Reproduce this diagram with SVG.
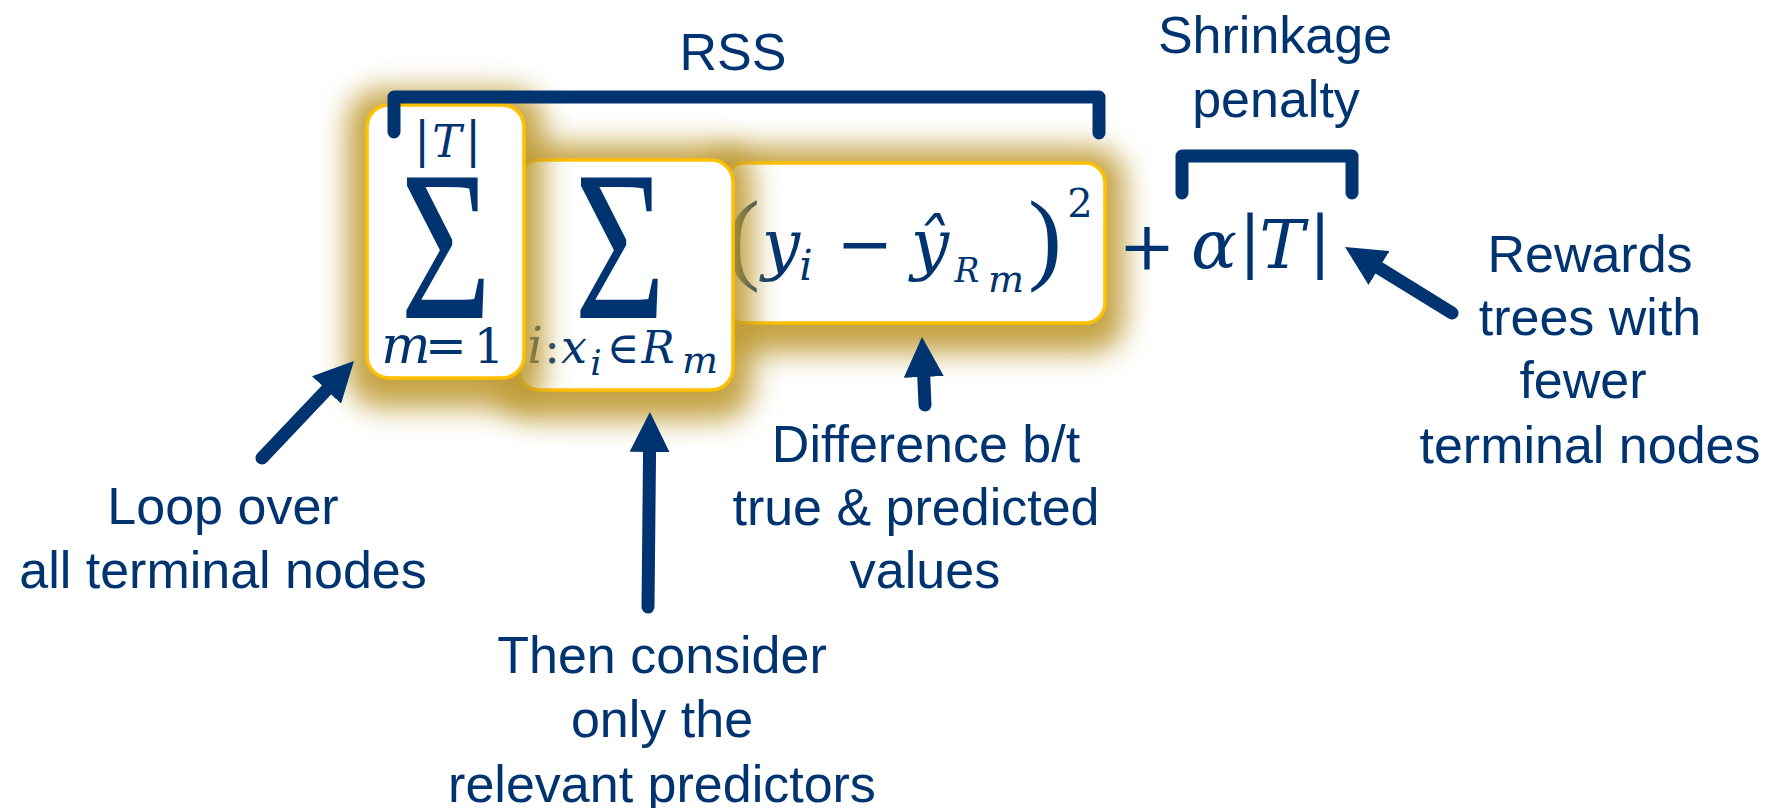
<svg xmlns="http://www.w3.org/2000/svg" width="1781" height="808" viewBox="0 0 1781 808">
<style>
.lbl{font-family:"Liberation Sans",Arial,sans-serif;font-size:52px;fill:#003471;text-anchor:middle}
.m{font-family:"DejaVu Serif",serif;fill:#003471;text-anchor:middle}
.mi{font-family:"DejaVu Serif",serif;font-style:italic;fill:#003471;text-anchor:middle}
.sig{font-family:"Liberation Serif",serif;font-size:215px;fill:#003471;text-anchor:middle}
.par{font-family:"Liberation Serif",serif;font-size:102px;fill:#003471}
.box{fill:#ffffff;stroke:#FFC000;stroke-width:3.5}
.glow{fill:#BE9A30;opacity:0.9;filter:url(#blur)}
.brk{fill:none;stroke:#003471;stroke-width:13;stroke-linecap:round;stroke-linejoin:round}
.arr{fill:none;stroke:#003471;stroke-width:13;stroke-linecap:round;marker-end:url(#head)}
</style>
<defs>
<filter id="blur" x="-50%" y="-50%" width="200%" height="200%"><feGaussianBlur stdDeviation="14"/></filter>
<marker id="head" markerUnits="userSpaceOnUse" markerWidth="40" markerHeight="40" viewBox="0 0 40 40" refX="15" refY="20" orient="auto"><path d="M0,0 L40,20 L0,40 z" fill="#003471"/></marker>
</defs>
<rect width="1781" height="808" fill="#ffffff"/>

<g id="box3">
<rect class="glow" x="705" y="147" width="420" height="206" rx="34"/>
<rect class="box" x="725" y="163" width="380" height="160" rx="20"/>
<text class="par" x="726" y="271">(</text>
<text class="mi" x="781" y="267" font-size="68">y</text>
<text class="mi" x="806" y="280" font-size="42">i</text>
<text class="m" x="865" y="267" font-size="68">−</text>
<text class="mi" x="930" y="267" font-size="68">ŷ</text>
<text class="mi" x="967" y="282" font-size="33">R</text>
<text class="mi" x="1006" y="292" font-size="38">m</text>
<text class="par" x="1028" y="271">)</text>
<text class="m" x="1080" y="217" font-size="40">2</text>
</g>

<g id="box2">
<rect class="glow" x="498" y="144" width="255" height="276" rx="34"/>
<rect class="box" x="518" y="160" width="215" height="230" rx="22"/>
<text class="sig" transform="translate(620,318) scale(0.73,1)">Σ</text>
<text class="mi" x="535" y="363" font-size="50">i</text>
<text class="m" x="552" y="363" font-size="46">:</text>
<text class="mi" x="574" y="363" font-size="46">x</text>
<text class="mi" x="596" y="375" font-size="36">i</text>
<text class="m" x="623" y="363" font-size="44">∈</text>
<text class="mi" x="658" y="363" font-size="44">R</text>
<text class="mi" x="700" y="373" font-size="38">m</text>
</g>

<g id="box1">
<rect class="glow" x="347" y="89" width="197" height="319" rx="34"/>
<rect class="box" x="367" y="105" width="157" height="273" rx="22"/>
<text class="m" x="422" y="157" font-size="48">|</text>
<text class="mi" x="447" y="157" font-size="44">T</text>
<text class="m" x="473" y="157" font-size="48">|</text>
<text class="sig" transform="translate(446,318) scale(0.73,1)">Σ</text>
<text class="mi" x="406" y="363" font-size="52">m</text>
<text class="m" x="446" y="363" font-size="50">=</text>
<text class="m" x="489" y="363" font-size="48">1</text>
</g>

<g id="penalty-term">
<text class="m" x="1147" y="269" font-size="68">+</text>
<text class="mi" x="1214" y="268" font-size="68">α</text>
<text class="m" x="1250" y="264" font-size="67">|</text>
<text class="mi" x="1282" y="268" font-size="68">T</text>
<text class="m" x="1320" y="264" font-size="67">|</text>
</g>

<g id="rss">
<text class="lbl" x="733" y="70">RSS</text>
</g>
<g id="shrinkage">
<text class="lbl" x="1275" y="53">Shrinkage</text>
<text class="lbl" x="1276" y="117">penalty</text>
</g>
<g id="rewards">
<text class="lbl" x="1590" y="272">Rewards</text>
<text class="lbl" x="1590" y="335">trees with</text>
<text class="lbl" x="1583" y="398">fewer</text>
<text class="lbl" x="1590" y="463">terminal nodes</text>
</g>
<g id="loop">
<text class="lbl" x="223" y="524">Loop over</text>
<text class="lbl" x="223" y="588">all terminal nodes</text>
</g>
<g id="difference">
<text class="lbl" x="926" y="462">Difference b/t</text>
<text class="lbl" x="916" y="525">true &amp; predicted</text>
<text class="lbl" x="925" y="588">values</text>
</g>
<g id="consider">
<text class="lbl" x="662" y="673">Then consider</text>
<text class="lbl" x="662" y="737">only the</text>
<text class="lbl" x="662" y="802">relevant predictors</text>
</g>

<g id="connectors">
<path class="brk" d="M394,132 V97 H1099 V133"/>
<path class="brk" d="M1182,193 V156 H1352 V193"/>
<path class="arr" d="M262,458 L336.8,379.1"/>
<path class="arr" d="M648,607 L649.7,437"/>
<path class="arr" d="M925,405 L923.1,362"/>
<path class="arr" d="M1452,313 L1366.3,260.1"/>
</g>
</svg>
